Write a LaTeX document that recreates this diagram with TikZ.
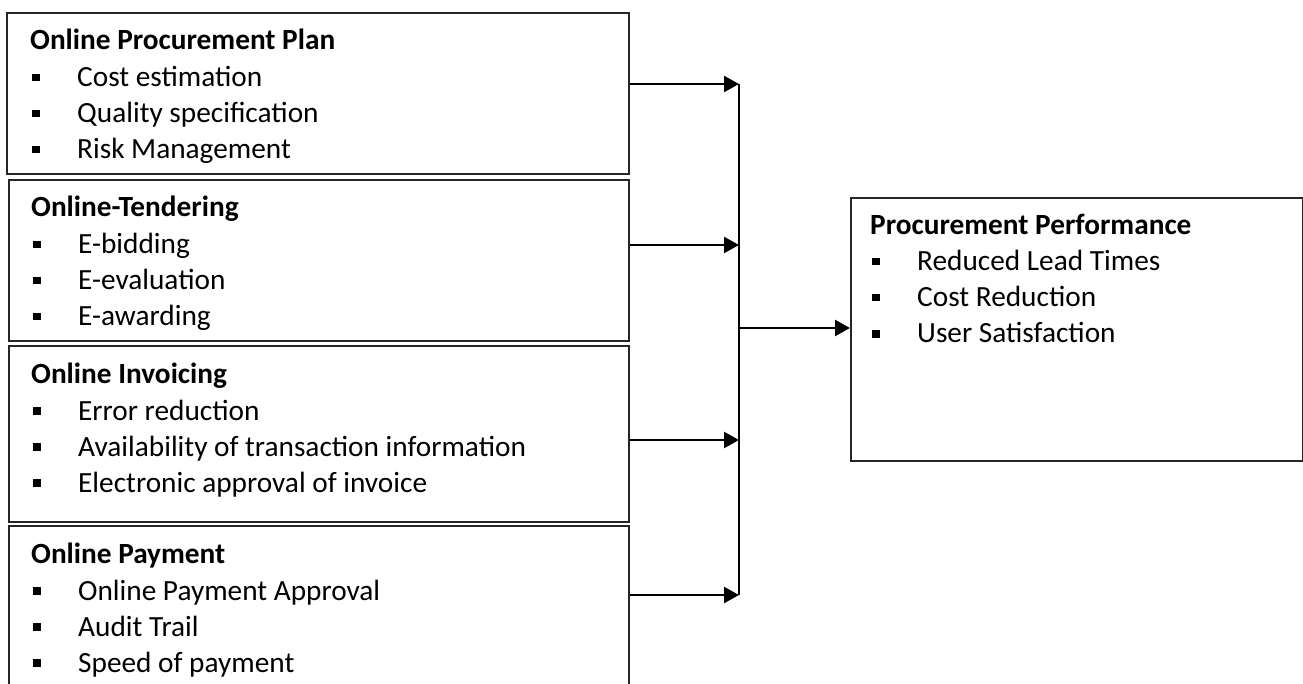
\documentclass[tikz,border=0pt]{standalone}
\usepackage{fontspec}
\setmainfont{Carlito}
\usetikzlibrary{arrows.meta}
\newcommand{\bulletsq}{\rule[5.5pt]{7.5pt}{7.5pt}}
\newcommand{\itm}[1]{\makebox[45pt][l]{\bulletsq}#1}
\begin{document}
\begin{tikzpicture}[x=1pt,y=-1pt,
  box/.style={draw=black!85,line width=1.8pt,inner sep=0pt,anchor=north west},
  txt/.style={anchor=base west,inner sep=0pt,font=\fontsize{29.3}{36}\selectfont},
  ttl/.style={anchor=base west,inner sep=0pt,font=\fontsize{29.3}{36}\selectfont\bfseries},
  conn/.style={line width=2.4pt,-{Triangle[length=15pt,width=16pt]}},
  bus/.style={line width=2.4pt}
]
\useasboundingbox (0,0) rectangle (1303,684);
\clip (0,0) rectangle (1303,684);

% boxes
\node[box,minimum width=622pt,minimum height=161pt] (b1) at (6,12) {};
\node[box,minimum width=620pt,minimum height=161pt] (b2) at (8,179) {};
\node[box,minimum width=620pt,minimum height=176pt] (b3) at (8,345) {};
\node[box,minimum width=620pt,minimum height=200pt] (b4) at (8,525) {};
\node[box,minimum width=452pt,minimum height=263pt] (pp) at (850,197) {};

% box 1 text
\node[ttl] (t1) at (30,50) {Online Procurement Plan};
\node[txt] (t1a) at (32,87) {\itm{Cost estimation}};
\node[txt] (t1b) at (32,123) {\itm{Quality specification}};
\node[txt] (t1c) at (32,159) {\itm{Risk Management}};

% box 2 text
\node[ttl] (t2) at (31,217) {Online-Tendering};
\node[txt] (t2a) at (33,254) {\itm{E-bidding}};
\node[txt] (t2b) at (33,290) {\itm{E-evaluation}};
\node[txt] (t2c) at (33,326) {\itm{E-awarding}};

% box 3 text
\node[ttl] (t3) at (31,383) {Online Invoicing};
\node[txt] (t3a) at (33,420) {\itm{Error reduction}};
\node[txt] (t3b) at (33,456) {\itm{Availability of transaction information}};
\node[txt] (t3c) at (33,492) {\itm{Electronic approval of invoice}};

% box 4 text
\node[ttl] (t4) at (31,563) {Online Payment};
\node[txt] (t4a) at (33,600) {\itm{Online Payment Approval}};
\node[txt] (t4b) at (33,636) {\itm{Audit Trail}};
\node[txt] (t4c) at (33,672) {\itm{Speed of payment}};

% right box text
\node[ttl] (t5) at (870,235) {Procurement Performance};
\node[txt] (t5a) at (872,271) {\itm{Reduced Lead Times}};
\node[txt] (t5b) at (872,307) {\itm{Cost Reduction}};
\node[txt] (t5c) at (872,343) {\itm{User Satisfaction}};

% connectors
\coordinate (j1) at (739,84);
\coordinate (j2) at (739,245);
\coordinate (j3) at (739,440);
\coordinate (j4) at (739,595);
\coordinate (jm) at (739,328);
\draw[bus] (j1) -- (j4);
\draw[conn] (b1.east |- j1) -- (j1);
\draw[conn] (b2.east |- j2) -- (j2);
\draw[conn] (b3.east |- j3) -- (j3);
\draw[conn] (b4.east |- j4) -- (j4);
\draw[conn] (jm) -- (pp.west |- jm);
\end{tikzpicture}
\end{document}
